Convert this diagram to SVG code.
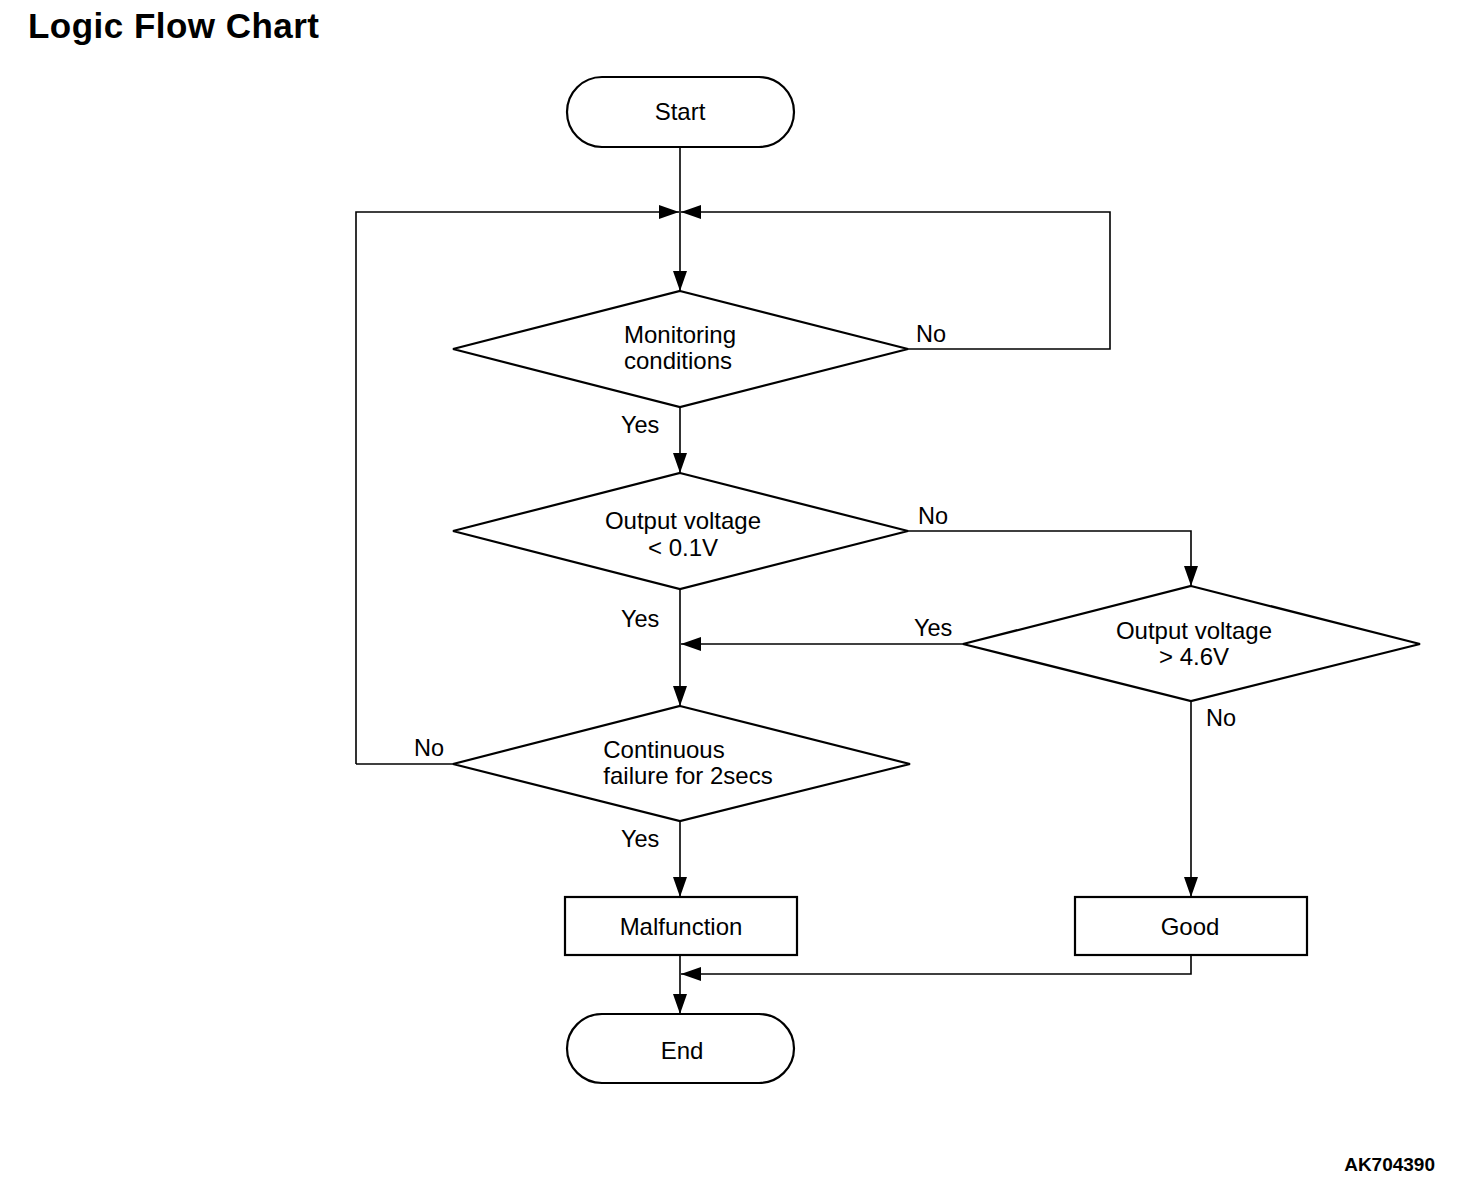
<svg xmlns="http://www.w3.org/2000/svg" width="1472" height="1186" viewBox="0 0 1472 1186">
<style>
.shape{fill:#fff;stroke:#000;stroke-width:2.2}
.line{fill:none;stroke:#000;stroke-width:1.6}
.t{font-family:"Liberation Sans",Arial,sans-serif;font-size:24px;fill:#000;text-anchor:middle}
.l{font-family:"Liberation Sans",Arial,sans-serif;font-size:23.5px;fill:#000}
</style>
<defs>
<marker id="ah" viewBox="0 0 20 14" refX="20" refY="7" markerWidth="20" markerHeight="14" markerUnits="userSpaceOnUse" orient="auto">
<path d="M0,0 L20,7 L0,14 Z" fill="#000"/>
</marker>
</defs>
<rect width="1472" height="1186" fill="#fff"/>
<text x="28" y="38" textLength="291" style="font-family:'Liberation Sans',Arial,sans-serif;font-size:35px;font-weight:bold">Logic Flow Chart</text>
<text x="1435" y="1171" text-anchor="end" style="font-family:'Liberation Sans',Arial,sans-serif;font-size:19px;font-weight:bold">AK704390</text>
<g id="connectors">
<path class="line" d="M680,147 V291" marker-end="url(#ah)"/>
<path class="line" d="M356,764 V212 H679" marker-end="url(#ah)"/>
<path class="line" d="M908,349 H1110 V212 H681" marker-end="url(#ah)"/>
<path class="line" d="M680,407 V473" marker-end="url(#ah)"/>
<path class="line" d="M908,531 H1191 V586" marker-end="url(#ah)"/>
<path class="line" d="M963,644 H681" marker-end="url(#ah)"/>
<path class="line" d="M680,589 V706" marker-end="url(#ah)"/>
<path class="line" d="M453,764 H356"/>
<path class="line" d="M680,821 V897" marker-end="url(#ah)"/>
<path class="line" d="M1191,701 V897" marker-end="url(#ah)"/>
<path class="line" d="M1191,955 V974 H681" marker-end="url(#ah)"/>
<path class="line" d="M680,955 V1014" marker-end="url(#ah)"/>
<text class="l" x="916" y="342">No</text>
<text class="l" x="621" y="433">Yes</text>
<text class="l" x="918" y="524">No</text>
<text class="l" x="621" y="627">Yes</text>
<text class="l" x="914" y="636">Yes</text>
<text class="l" x="1206" y="726">No</text>
<text class="l" x="414" y="756">No</text>
<text class="l" x="621" y="847">Yes</text>
</g>
<g id="start">
<rect class="shape" x="567" y="77" width="227" height="70" rx="35" ry="35"/>
<text class="t" x="680" y="120">Start</text>
</g>
<g id="monitoring">
<polygon class="shape" points="680,291 908,349 680,407 453,349"/>
<text class="t" x="680" y="343">Monitoring</text>
<text class="t" x="678" y="369">conditions</text>
</g>
<g id="lowvoltage">
<polygon class="shape" points="680,473 908,531 680,589 453,531"/>
<text class="t" x="683" y="529">Output voltage</text>
<text class="t" x="683" y="556">&lt; 0.1V</text>
</g>
<g id="highvoltage">
<polygon class="shape" points="1191,586 1420,644 1191,701 963,644"/>
<text class="t" x="1194" y="639">Output voltage</text>
<text class="t" x="1194" y="665">&gt; 4.6V</text>
</g>
<g id="continuous">
<polygon class="shape" points="680,706 910,764 680,821 453,764"/>
<text class="t" x="664" y="758">Continuous</text>
<text class="t" x="688" y="784">failure for 2secs</text>
</g>
<g id="malfunction">
<rect class="shape" x="565" y="897" width="232" height="58"/>
<text class="t" x="681" y="935">Malfunction</text>
</g>
<g id="good">
<rect class="shape" x="1075" y="897" width="232" height="58"/>
<text class="t" x="1190" y="935">Good</text>
</g>
<g id="end">
<rect class="shape" x="567" y="1014" width="227" height="69" rx="35" ry="35"/>
<text class="t" x="682" y="1059">End</text>
</g>
</svg>
